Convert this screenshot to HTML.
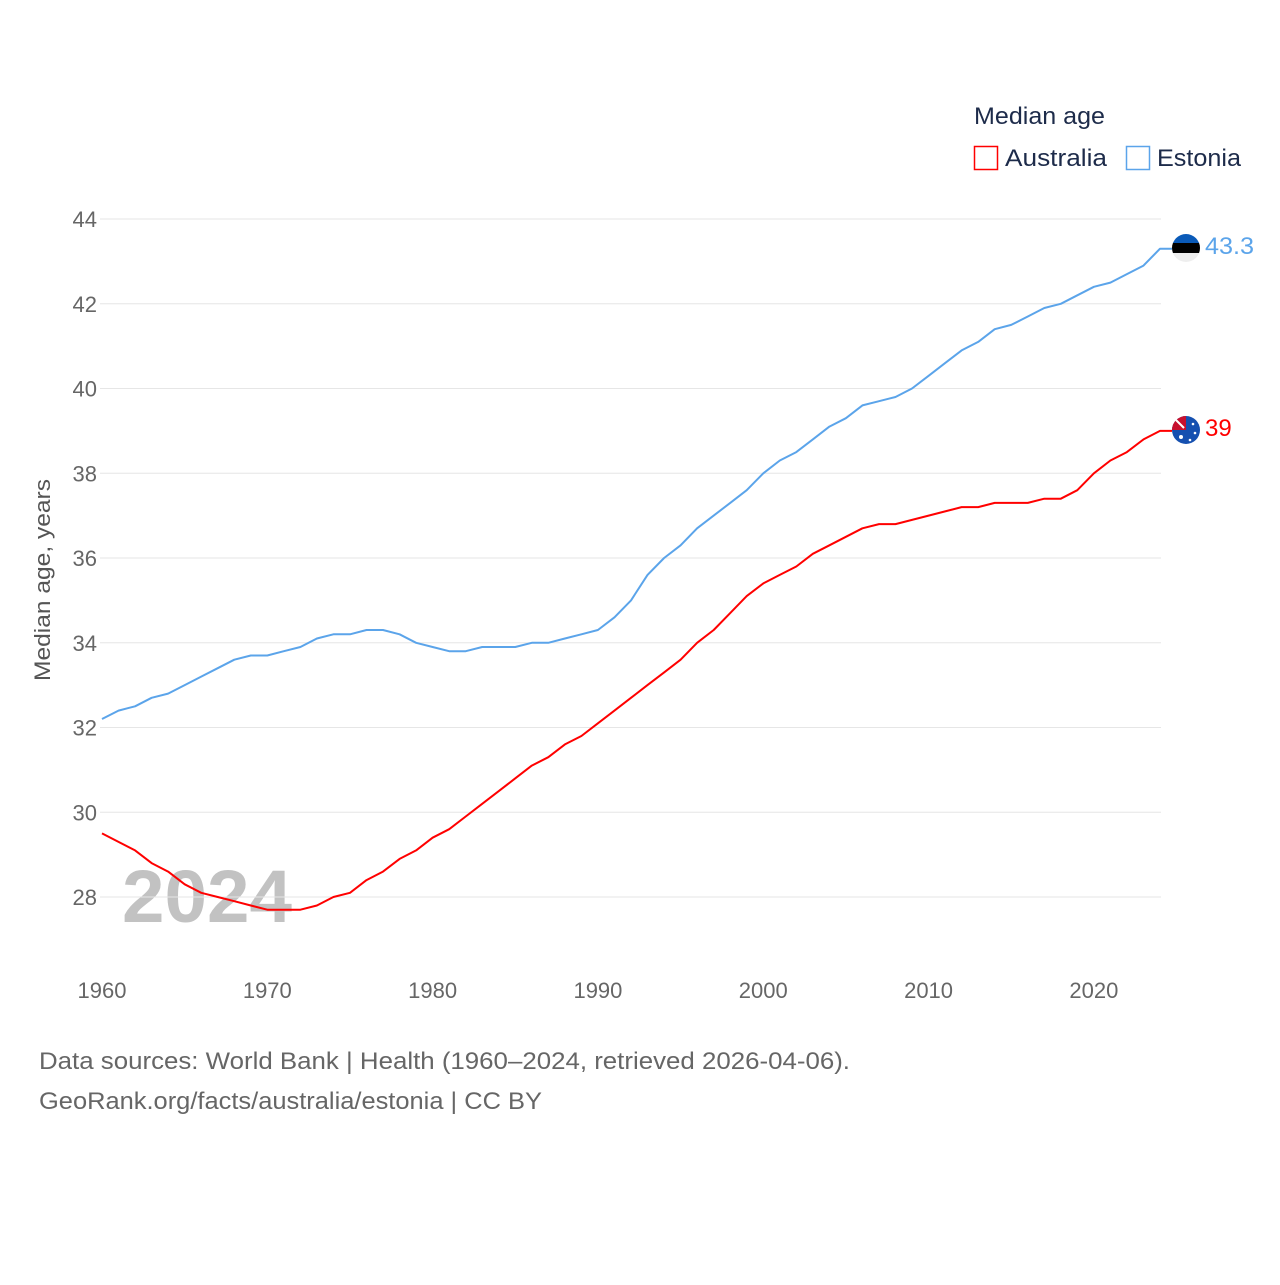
<!DOCTYPE html>
<html><head><meta charset="utf-8">
<style>
html,body{margin:0;padding:0;background:#fff;}
body{width:1280px;height:1280px;overflow:hidden;font-family:"Liberation Sans",sans-serif;}
</style></head>
<body>
<svg id="chart" width="1280" height="1280" xmlns="http://www.w3.org/2000/svg" font-family="Liberation Sans, sans-serif">
<text x="974" y="124" font-size="24" fill="#1d2b4a" textLength="131" lengthAdjust="spacingAndGlyphs">Median age</text>
<g>
<rect x="974.5" y="146.5" width="23" height="23" fill="none" stroke="#ff0000" stroke-width="1.5"/>
<text x="1005" y="166" font-size="24" fill="#1d2b4a" textLength="102" lengthAdjust="spacingAndGlyphs">Australia</text></g>
<g>
<rect x="1126.5" y="146.5" width="23" height="23" fill="none" stroke="#5ba4ea" stroke-width="1.5"/>
<text x="1157" y="166" font-size="24" fill="#1d2b4a" textLength="84" lengthAdjust="spacingAndGlyphs">Estonia</text></g>
<text transform="translate(50,580) rotate(-90)" text-anchor="middle" font-size="22" fill="#555" textLength="202" lengthAdjust="spacingAndGlyphs">Median age, years</text>
<text x="122" y="922" font-size="74" font-weight="bold" fill="#c2c2c2" textLength="170" lengthAdjust="spacingAndGlyphs">2024</text>
<g id="grid"></g><g id="lines"></g>
<g>
<clipPath id="ce"><circle cx="1186" cy="248" r="14"/></clipPath>
<g clip-path="url(#ce)"><rect x="1170" y="232" width="32" height="11" fill="#0a5ab8"/><rect x="1170" y="243" width="32" height="10" fill="#000"/><rect x="1170" y="253" width="32" height="12" fill="#eee"/></g></g>
<g>
<circle cx="1186" cy="430" r="14" fill="#1550b0"/>
<path d="M1172 430 A14 14 0 0 1 1186 416 L1186 430 Z" fill="#c8102e"/>
<path d="M1176 420 L1184 428" stroke="#fff" stroke-width="2"/>
<circle cx="1181" cy="437" r="2" fill="#fff"/><circle cx="1193" cy="424" r="1.3" fill="#fff"/><circle cx="1195" cy="433" r="1.3" fill="#fff"/><circle cx="1190" cy="440" r="1.3" fill="#fff"/>
</g>
<text x="1205" y="254" font-size="24" fill="#5ba4ea" textLength="49" lengthAdjust="spacingAndGlyphs">43.3</text>
<text x="1205" y="436" font-size="24" fill="#ff0000">39</text>
<text x="39" y="1069" font-size="24" fill="#666" textLength="811" lengthAdjust="spacingAndGlyphs">Data sources: World Bank | Health (1960–2024, retrieved 2026-04-06).</text>
<text x="39" y="1109" font-size="24" fill="#666" textLength="503" lengthAdjust="spacingAndGlyphs">GeoRank.org/facts/australia/estonia | CC BY</text>
</svg>
<script>
const years=[];for(let y=1960;y<=2024;y++)years.push(y);
const estonia=[32.2,32.4,32.5,32.7,32.8,33.0,33.2,33.4,33.6,33.7,33.7,33.8,33.9,34.1,34.2,34.2,34.3,34.3,34.2,34.0,33.9,33.8,33.8,33.9,33.9,33.9,34.0,34.0,34.1,34.2,34.3,34.6,35.0,35.6,36.0,36.3,36.7,37.0,37.3,37.6,38.0,38.3,38.5,38.8,39.1,39.3,39.6,39.7,39.8,40.0,40.3,40.6,40.9,41.1,41.4,41.5,41.7,41.9,42.0,42.2,42.4,42.5,42.7,42.9,43.3];
const australia=[29.5,29.3,29.1,28.8,28.6,28.3,28.1,28.0,27.9,27.8,27.7,27.7,27.7,27.8,28.0,28.1,28.4,28.6,28.9,29.1,29.4,29.6,29.9,30.2,30.5,30.8,31.1,31.3,31.6,31.8,32.1,32.4,32.7,33.0,33.3,33.6,34.0,34.3,34.7,35.1,35.4,35.6,35.8,36.1,36.3,36.5,36.7,36.8,36.8,36.9,37.0,37.1,37.2,37.2,37.3,37.3,37.3,37.4,37.4,37.6,38.0,38.3,38.5,38.8,39.0];
const yTicks=[28,30,32,34,36,38,40,42,44];
const xTicks=[1960,1970,1980,1990,2000,2010,2020];
const ns="http://www.w3.org/2000/svg";
const xs=y=>102+(y-1960)*(1160-102)/64;
const ys=v=>897-(v-28)*(897-219)/16;
const grid=document.getElementById('grid'),lines=document.getElementById('lines');
function mk(t,a){const e=document.createElementNS(ns,t);for(const k in a)e.setAttribute(k,a[k]);return e;}
yTicks.forEach(v=>{
 const l=mk('line',{x1:100,x2:1161,y1:ys(v),y2:ys(v),stroke:'#e6e6e6','stroke-width':1});
 
 
 grid.appendChild(l);
 const t=mk('text',{x:97,y:ys(v)+8,'text-anchor':'end','font-size':22,fill:'#666'});
 
 
 t.textContent=v;grid.appendChild(t);
});
xTicks.forEach(v=>{
 const t=mk('text',{x:xs(v),y:998,'text-anchor':'middle','font-size':22,fill:'#666'});
 
 
 t.textContent=v;grid.appendChild(t);
});
function series(vals,color,name){
 let d=vals.map((v,i)=>(i?'L':'M')+xs(years[i]).toFixed(1)+' '+ys(v).toFixed(1)).join(' ');
 d+=' L1172 '+ys(vals[vals.length-1]).toFixed(1);
 const p=mk('path',{d:d,fill:'none',stroke:color,'stroke-width':2,'stroke-linejoin':'round'});
 
 
 lines.appendChild(p);
}
series(estonia,'#5ba4ea','estonia-line');
series(australia,'#ff0000','australia-line');
</script>
</body></html>
